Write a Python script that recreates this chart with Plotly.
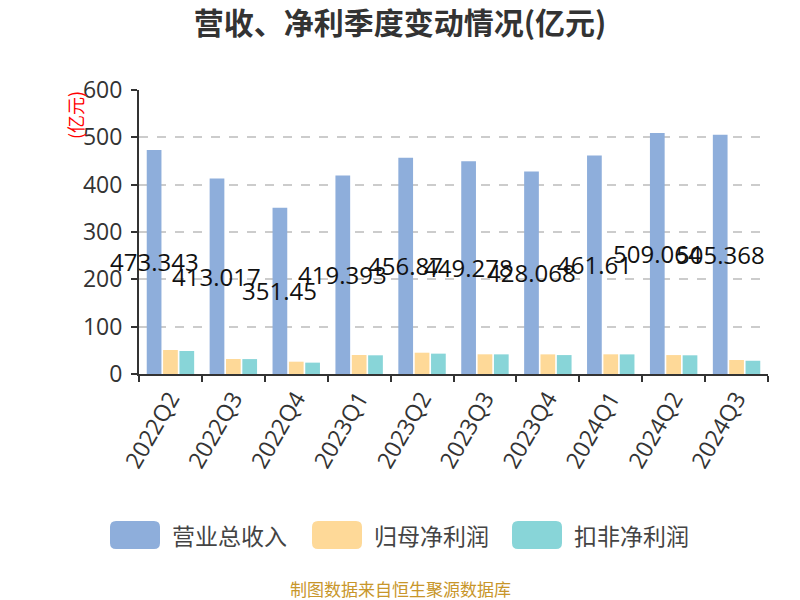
import plotly.graph_objects as go

categories = ["2022Q2", "2022Q3", "2022Q4", "2023Q1", "2023Q2", "2023Q3", "2023Q4", "2024Q1", "2024Q2", "2024Q3"]
revenue = [473.343, 413.017, 351.45, 419.393, 456.87, 449.278, 428.068, 461.61, 509.064, 505.368]
net_profit = [50.7, 31.7, 26.0, 40.1, 45.0, 41.6, 41.5, 41.6, 40.0, 29.6]
deducted_profit = [48.6, 31.5, 24.0, 39.5, 43.0, 41.5, 40.0, 41.4, 39.5, 28.0]
revenue_labels = ["473.343", "413.017", "351.45", "419.393", "456.87", "449.278", "428.068", "461.61", "509.064", "505.368"]
series_names = ["营业总收入", "归母净利润", "扣非净利润"]
colors = ["#8eaedb", "#fed998", "#88d5d8"]

FONT = "Noto Sans CJK SC"
NUMFONT = "Open Sans, Noto Sans CJK SC"

# plot area geometry in pixels
L, R, T, B = 139, 768, 90, 374
W, H = 800, 600


def px(xp):
    return (xp - L) / (R - L)


def py(yp):
    return (B - yp) / (B - T)


fig = go.Figure()
for name, vals, c in zip(series_names, [revenue, net_profit, deducted_profit], colors):
    fig.add_trace(go.Bar(x=categories, y=vals, name=name, marker_color=c,
                         marker_line_width=0, showlegend=False))

annotations = []
for cat, v, lab in zip(categories, revenue, revenue_labels):
    annotations.append(dict(x=cat, y=v / 2, text=lab, showarrow=False, xref="x", yref="y",
                            xanchor="center", yanchor="middle",
                            xshift=-16.4, font=dict(family=NUMFONT, size=24, color="#111")))

# y-axis unit
annotations.append(dict(x=px(75), y=py(115), xref="paper", yref="paper", text="(亿元)",
                        showarrow=False, textangle=-90, xanchor="center", yanchor="middle",
                        font=dict(family=FONT, size=18, color="#ff0000")))

# custom legend
shapes = []
legend_items = [(110, 170), (312, 372), (512, 572)]
for (rx, tx), name, c in zip(legend_items, series_names, colors):
    x0, x1, y0, y1, r = rx, rx + 50, 521, 549, 6
    path = (f"M {px(x0 + r)} {py(y0)} L {px(x1 - r)} {py(y0)} "
            f"Q {px(x1)} {py(y0)} {px(x1)} {py(y0 + r)} L {px(x1)} {py(y1 - r)} "
            f"Q {px(x1)} {py(y1)} {px(x1 - r)} {py(y1)} L {px(x0 + r)} {py(y1)} "
            f"Q {px(x0)} {py(y1)} {px(x0)} {py(y1 - r)} L {px(x0)} {py(y0 + r)} "
            f"Q {px(x0)} {py(y0)} {px(x0 + r)} {py(y0)} Z")
    shapes.append(dict(type="path", path=path, xref="paper", yref="paper",
                       fillcolor=c, line=dict(width=0)))
    annotations.append(dict(x=px(tx), y=py(535), xref="paper", yref="paper", text=name,
                            showarrow=False, xanchor="left", yanchor="middle",
                            font=dict(family=FONT, size=23, color="#444")))

# footer
annotations.append(dict(x=px(400), y=py(588), xref="paper", yref="paper",
                        text="制图数据来自恒生聚源数据库", showarrow=False,
                        xanchor="center", yanchor="middle",
                        font=dict(family=FONT, size=17, color="#c8962a")))

fig.update_layout(
    width=W, height=H,
    margin=dict(l=L, r=W - R, t=T, b=H - B, pad=0),
    paper_bgcolor="white", plot_bgcolor="white",
    barmode="group", bargap=0.22, bargroupgap=0.1,
    title=dict(text="<b>营收、净利季度变动情况(亿元)</b>", x=0.5, xref="container", xanchor="center",
               y=1 - 23 / H, yanchor="middle", font=dict(family=FONT, size=30, color="#333")),
    font=dict(family=FONT),
    annotations=annotations,
    shapes=shapes,
)

fig.update_yaxes(range=[0, 600], dtick=100, showgrid=True, gridcolor="#cccccc",
                 griddash="dash", gridwidth=1.5, zeroline=False,
                 showline=True, linecolor="#333", linewidth=2,
                 ticks="outside", ticklen=6, tickcolor="#333", tickwidth=2,
                 ticklabelstandoff=4,
                 tickfont=dict(family=NUMFONT, size=23, color="#333"))
fig.update_xaxes(range=[-0.5, len(categories) - 0.5], autorange=False,
                 showline=True, linecolor="#333", linewidth=2,
                 ticks="outside", ticklen=6, tickcolor="#333", tickwidth=2,
                 tickson="boundaries", tickangle=-60,
                 tickfont=dict(family=NUMFONT, size=23, color="#333"))

fig.write_html("out.html")
